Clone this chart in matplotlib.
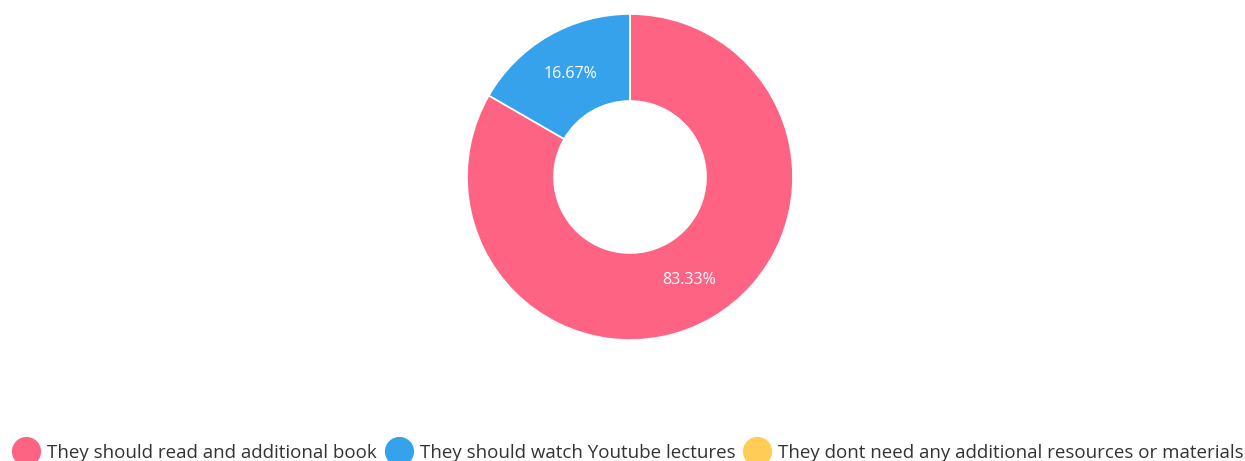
import matplotlib.pyplot as plt
from matplotlib.lines import Line2D

# Data
labels = ['They should read and additional book',
          'They should watch Youtube lectures',
          'They dont need any additional resources or materials']
counts = [5, 1, 0]
colors = ['#FF6384', '#36A2EB', '#FFCD56']

plt.rcParams['font.family'] = ['Open Sans', 'DejaVu Sans']

W, H = 1245, 461
fig = plt.figure(figsize=(W / 100, H / 100), dpi=100)

# Donut axes: centre (630, 177) px, outer radius ~163 px
cx, cy, half = 630, 177, 170
ax = fig.add_axes([(cx - half) / W, (H - cy - half) / H, 2 * half / W, 2 * half / H])
lim = half / 163
ax.axis('off')

vals = [c for c in counts if c > 0]
cols = [colors[i] for i, c in enumerate(counts) if c > 0]
wedges, texts, autotexts = ax.pie(
    vals, colors=cols, startangle=90, counterclock=False,
    radius=1.0, wedgeprops=dict(width=1 - 76 / 163, edgecolor='white', linewidth=1.2),
    autopct=lambda p: f'{p:.2f}%', pctdistance=0.73,
    textprops=dict(color='white', fontsize=11.5))
ax.set_xlim(-lim, lim)
ax.set_ylim(-lim, lim)
ax.set_aspect('equal')

# Legend
fs = 13.5
handles = [Line2D([0], [0], marker='o', linestyle='', markersize=20,
                  markerfacecolor=c, markeredgecolor=c) for c in colors]
leg = fig.legend(handles, labels, loc='center', ncol=3,
                 bbox_to_anchor=(628 / W, 1 - 452.5 / H), frameon=False,
                 fontsize=fs, handlelength=20 / fs, handletextpad=5 / fs,
                 columnspacing=6 / fs, borderaxespad=0, borderpad=0)
for t in leg.get_texts():
    t.set_color('#333333')

fig.savefig('out.png', dpi=100)
